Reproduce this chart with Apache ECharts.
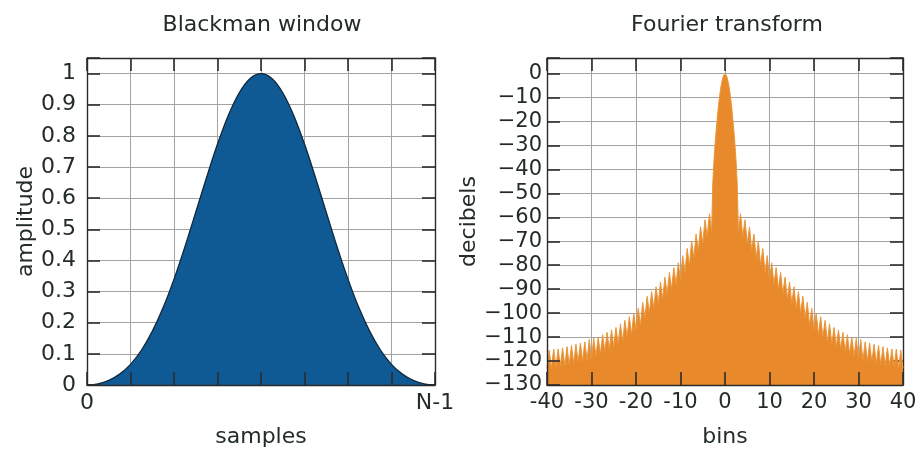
<!DOCTYPE html>
<html><head><meta charset="utf-8">
<script src="https://cdn.jsdelivr.net/npm/echarts@6/dist/echarts.min.js"></script>
<style>html,body{margin:0;padding:0;background:#fff}#c{width:920px;height:451px}</style>
</head><body><div id="c"></div>
<script>
// ---- Left panel: Blackman window (rising half, samples 0..16 of 0..32; symmetric) ----
const windowHalf = [0, 0.0035, 0.0146, 0.0349, 0.0664, 0.1116, 0.1721, 0.2485, 0.34,
  0.4436, 0.5548, 0.6672, 0.7736, 0.8664, 0.9385, 0.9843, 1.0];
const sampleTickLabels = { first: '0', last: 'N-1' };

// ---- Right panel: Fourier transform (positive bins; mirrored for negative bins) ----
const mainLobeBins = [0, 0.25, 0.5, 0.75, 1, 1.25, 1.5, 1.75, 2, 2.25, 2.5, 2.75, 3];
const mainLobeDb = [0, -0.5, -1.8, -3.8, -6.5, -10, -14, -19, -24, -30, -37, -46, -66];
// side-lobe peaks at bins 3.5, 4.5, ... 39.5
const sidelobePeakDb = [-58.5, -61, -64, -67, -70, -73, -76, -79, -81, -83, -85, -87, -89,
  -91, -93, -95.5, -98, -100, -101.5, -103, -104.5, -106, -107, -108, -109, -110, -110.5,
  -111, -112, -112.5, -113, -113.5, -114, -114.5, -115, -115, -115.5];
// valleys between side lobes at bins 4, 5, ... 40
const sidelobeValleyDb = [-68, -71, -74, -77, -80, -83, -86, -88, -90, -92, -94, -96, -98,
  -100, -102, -105, -107, -109, -110, -112, -113, -114, -115, -116, -117, -118, -119,
  -119.5, -120, -120.5, -121, -121.5, -122, -122, -122.5, -123, -123];
const yTicksLeft = { min: 0, max: 1.05, step: 0.1 };
const yTicksRight = { min: -130, max: 6.5, step: 10 };
const xTicksRight = { min: -40, max: 40, step: 10 };

// ---- build series data ----
const windowValues = windowHalf.concat(windowHalf.slice(0, -1).reverse());
const nSamples = windowValues.length - 1;
const windowData = windowValues.map((v, i) => [i, v]);

const posHalf = mainLobeBins.map((b, i) => [b, mainLobeDb[i]]);
sidelobePeakDb.forEach((p, i) => {
  posHalf.push([3.5 + i, p]);
  posHalf.push([4 + i, sidelobeValleyDb[i]]);
});
const negHalf = posHalf.slice(1).map(([b, v]) => [-b, v]).reverse();
const spectrumData = negHalf.concat(posHalf);

// ---- styles ----
const FONT = 'DejaVu Sans';
const TXT = '#232b2b';
const FRAME = '#2b2b2b';
const GRIDC = '#a3a3a3';
const tickStyle = { show: true, inside: true, length: 13, lineStyle: { color: FRAME, width: 1.6 } };
const lineStyleFrame = { show: true, onZero: false, lineStyle: { color: FRAME, width: 1.4 } };
const splitStyle = { show: true, lineStyle: { color: GRIDC, width: 1 } };
const FS = 22;

const chart = echarts.init(document.getElementById('c'), null, { renderer: 'canvas' });
chart.setOption({
  animation: false,
  backgroundColor: '#fff',
  textStyle: { fontFamily: FONT },
  graphic: [
    { type: 'text', x: 262, y: 25, style: { text: 'Blackman window', font: FS + 'px "DejaVu Sans"', fill: TXT, align: 'center', verticalAlign: 'middle', textAlign: 'center', textVerticalAlign: 'middle' } },
    { type: 'text', x: 727, y: 25, style: { text: 'Fourier transform', font: FS + 'px "DejaVu Sans"', fill: TXT, align: 'center', verticalAlign: 'middle', textAlign: 'center', textVerticalAlign: 'middle' } }
  ],
  grid: [
    { left: 87, top: 58, width: 348, height: 327, show: false, containLabel: false, outerBoundsMode: 'none' },
    { left: 547, top: 58, width: 356, height: 327, show: false, containLabel: false, outerBoundsMode: 'none' }
  ],
  xAxis: [
    { gridIndex: 0, type: 'value', position: 'bottom', min: 0, max: nSamples, interval: 4, z: 5,
      name: 'samples', nameLocation: 'middle', nameGap: 41,
      nameTextStyle: { fontSize: FS, color: TXT, fontFamily: FONT },
      axisLine: lineStyleFrame, axisTick: tickStyle, splitLine: { show: false },
      axisLabel: { fontSize: FS, color: TXT, margin: 7, fontFamily: FONT,
        formatter: v => v === 0 ? sampleTickLabels.first : (v === nSamples ? sampleTickLabels.last : '') } },
    { gridIndex: 0, type: 'value', position: 'top', min: 0, max: nSamples, interval: 4, z: 0,
      axisLine: lineStyleFrame, axisTick: tickStyle, splitLine: splitStyle, axisLabel: { show: false } },
    { gridIndex: 1, type: 'value', position: 'bottom', min: xTicksRight.min, max: xTicksRight.max, interval: xTicksRight.step, z: 5,
      name: 'bins', nameLocation: 'middle', nameGap: 41,
      nameTextStyle: { fontSize: FS, color: TXT, fontFamily: FONT },
      axisLine: lineStyleFrame, axisTick: tickStyle, splitLine: { show: false },
      axisLabel: { fontSize: 21, color: TXT, margin: 7, fontFamily: FONT } },
    { gridIndex: 1, type: 'value', position: 'top', min: xTicksRight.min, max: xTicksRight.max, interval: xTicksRight.step, z: 0,
      axisLine: lineStyleFrame, axisTick: tickStyle, splitLine: splitStyle, axisLabel: { show: false } }
  ],
  yAxis: [
    { gridIndex: 0, type: 'value', position: 'left', min: yTicksLeft.min, max: yTicksLeft.max, interval: yTicksLeft.step, z: 5,
      name: 'amplitude', nameLocation: 'middle', nameGap: 50,
      nameTextStyle: { fontSize: FS, color: TXT, fontFamily: FONT },
      axisLine: lineStyleFrame, axisTick: tickStyle, splitLine: { show: false },
      axisLabel: { fontSize: FS, color: TXT, margin: 11, fontFamily: FONT,
        formatter: v => v > 1.0001 ? '' : String(Number(v.toFixed(2))) } },
    { gridIndex: 0, type: 'value', position: 'right', min: yTicksLeft.min, max: yTicksLeft.max, interval: yTicksLeft.step, z: 0,
      axisLine: lineStyleFrame, axisTick: tickStyle, splitLine: splitStyle, axisLabel: { show: false } },
    { gridIndex: 1, type: 'value', position: 'left', min: yTicksRight.min, max: yTicksRight.max, interval: yTicksRight.step, z: 5,
      name: 'decibels', nameLocation: 'middle', nameGap: 57,
      nameTextStyle: { fontSize: FS, color: TXT, fontFamily: FONT },
      axisLine: lineStyleFrame, axisTick: tickStyle, splitLine: { show: false },
      axisLabel: { fontSize: 21, color: TXT, margin: 5, fontFamily: FONT,
        formatter: v => v > 0 ? '' : String(v).replace('-', '\u2212') } },
    { gridIndex: 1, type: 'value', position: 'right', min: yTicksRight.min, max: yTicksRight.max, interval: yTicksRight.step, z: 0,
      axisLine: lineStyleFrame, axisTick: tickStyle, splitLine: splitStyle, axisLabel: { show: false } }
  ],
  series: [
    { type: 'line', xAxisIndex: 0, yAxisIndex: 0, data: windowData, smooth: 0.35, showSymbol: false, z: 3,
      lineStyle: { color: '#10283c', width: 1.3 },
      areaStyle: { color: '#0f5a94', opacity: 1, origin: 'start' } },
    { type: 'line', xAxisIndex: 2, yAxisIndex: 2, data: spectrumData, showSymbol: false, z: 3,
      lineStyle: { color: '#eb9638', width: 1 },
      areaStyle: { color: '#e8892c', opacity: 1, origin: 'start' } }
  ]
});
</script></body></html>
